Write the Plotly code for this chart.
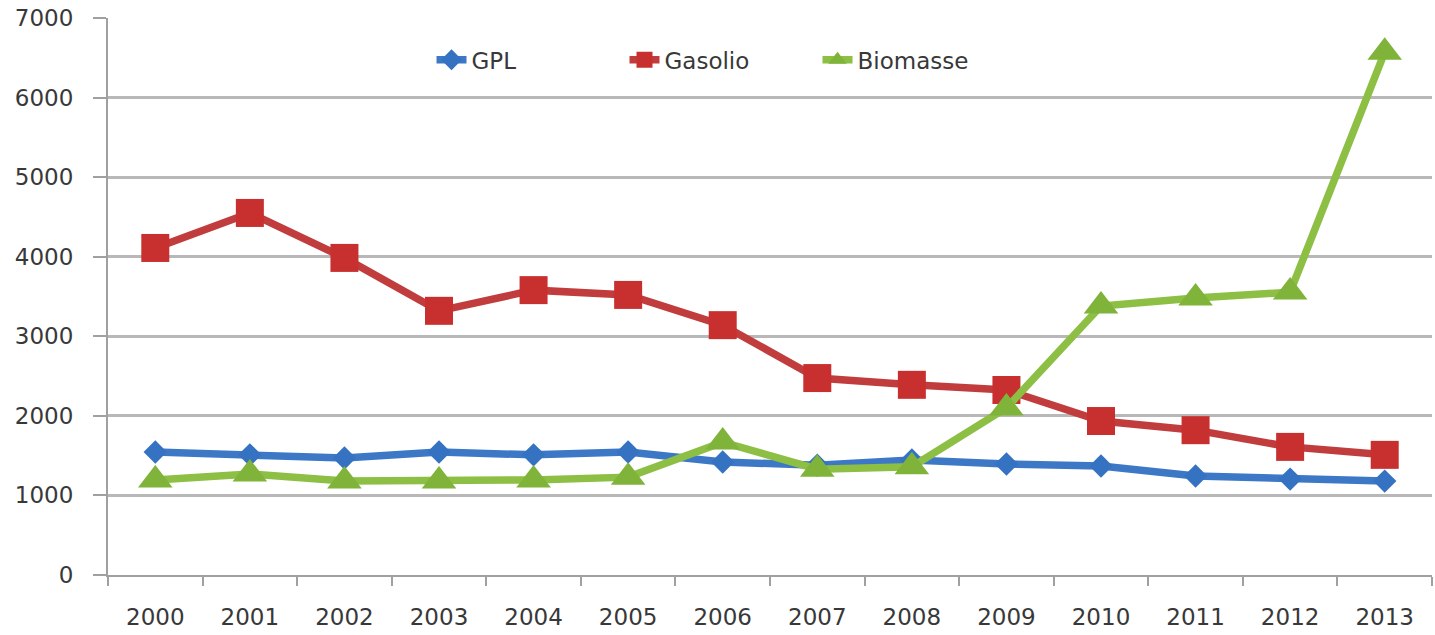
import plotly.graph_objects as go

years = ["2000", "2001", "2002", "2003", "2004", "2005", "2006",
         "2007", "2008", "2009", "2010", "2011", "2012", "2013"]
gpl = [1545, 1510, 1470, 1545, 1510, 1545, 1420, 1380, 1445, 1395, 1370, 1245, 1205, 1180]
gasolio = [4110, 4550, 3985, 3320, 3580, 3520, 3140, 2475, 2390, 2325, 1935, 1820, 1610, 1510]
biomasse = [1195, 1270, 1180, 1180, 1195, 1230, 1670, 1330, 1360, 2100, 3380, 3480, 3555, 6570]
y_ticks = [0, 1000, 2000, 3000, 4000, 5000, 6000, 7000]

fig = go.Figure()
fig.add_trace(go.Scatter(x=years, y=gpl, name="GPL", mode="lines+markers",
                         line=dict(color="#3d78c6", width=7.5),
                         marker=dict(symbol="diamond", size=18, color="#3572c2")))
fig.add_trace(go.Scatter(x=years, y=gasolio, name="Gasolio", mode="lines+markers",
                         line=dict(color="#c13d3d", width=7.5),
                         marker=dict(symbol="square", size=28, color="#c8302f")))
fig.add_trace(go.Scatter(x=years, y=biomasse, name="Biomasse", mode="lines+markers",
                         line=dict(color="#8cbf44", width=7.5),
                         marker=dict(symbol="triangle-up", size=30, color="#7fb33a")))

fig.update_layout(
    width=1435, height=635,
    margin=dict(l=108, r=3, t=18, b=60),
    paper_bgcolor="white", plot_bgcolor="white",
    font=dict(family="DejaVu Sans, sans-serif", size=23, color="#383838"),
    showlegend=True,
    legend=dict(orientation="h", x=0.463, xanchor="center", y=0.925, yanchor="middle",
                bgcolor="rgba(0,0,0,0)", itemwidth=30, entrywidth=148,
                entrywidthmode="pixels", font=dict(size=23)),
    xaxis=dict(type="category", tickvals=years, ticktext=years, range=[-0.5, 13.5],
               tickson="boundaries", ticks="outside", ticklen=9, tickcolor="#a0a0a0",
               tickwidth=2, showline=True, linecolor="#a0a0a0", linewidth=2,
               showgrid=False, ticklabelstandoff=20, zeroline=False),
    yaxis=dict(range=[0, 7000], tickvals=y_ticks, tickformat="d",
               ticks="outside", ticklen=13, tickcolor="#a0a0a0", tickwidth=2,
               showline=True, linecolor="#a0a0a0", linewidth=2,
               showgrid=True, gridcolor="#b8b8b8", gridwidth=2.5,
               zeroline=False, ticklabelstandoff=15),
)

fig.write_html("out.html", config={"displayModeBar": False},
               post_script="document.body.style.margin='0';")
